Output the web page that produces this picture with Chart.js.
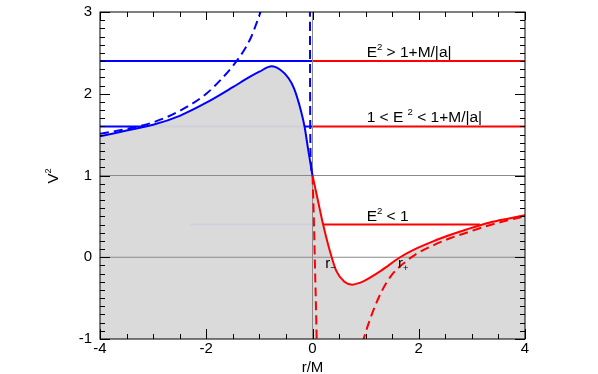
<!DOCTYPE html>
<html>
<head>
<meta charset="utf-8">
<script src="https://cdn.jsdelivr.net/npm/chart.js@4"></script>
<style>
  body { margin: 0; background: #fff; }
  canvas { display: block; }
</style>
</head>
<body>
<canvas id="chart" width="598" height="374"></canvas>
<script>
// Axis ticks
const xTickValues = [-4, -2, 0, 2, 4];
const yTickValues = [-1, 0, 1, 2, 3];

// Blue solid potential (r < 0)
const rBlue = [-4, -3.5, -3, -2.5, -2, -1.5, -1.2, -1.0, -0.77, -0.6, -0.45, -0.35, -0.25, -0.15, -0.08, 0];
const vBlue = [1.48, 1.55, 1.62, 1.73, 1.89, 2.08, 2.20, 2.27, 2.335, 2.29, 2.19, 2.07, 1.87, 1.6, 1.31, 1.0];

// Blue dashed potential, outer branch and branch near r = 0
const rBlueDash = [-4, -3.5, -3, -2.5, -2, -1.7, -1.5, -1.3, -1.15, -1.05, -0.98, -0.93];
const vBlueDash = [1.51, 1.57, 1.65, 1.79, 2.0, 2.19, 2.34, 2.52, 2.70, 2.87, 3.0, 3.12];
const rBlueDash2 = [-0.048, -0.045, -0.04, -0.03, -0.015, 0];
const vBlueDash2 = [3.05, 2.0, 1.4, 1.15, 1.04, 1.0];

// Red solid potential (r > 0)
const rRed = [0, 0.1, 0.2, 0.33, 0.45, 0.6, 0.75, 0.9, 1.0, 1.3, 1.65, 1.95, 2.27, 2.6, 2.9, 3.34, 3.7, 4];
const vRed = [1.0, 0.70, 0.40, 0.07, -0.17, -0.30, -0.335, -0.31, -0.28, -0.16, 0.0, 0.105, 0.195, 0.275, 0.34, 0.425, 0.475, 0.515];

// Red dashed potential, branch near r = 0 and outer branch
const rRedDash1 = [0, 0.015, 0.03, 0.05, 0.065, 0.08];
const vRedDash1 = [1.0, 0.7, 0.35, -0.2, -0.6, -1.05];
const rRedDash2 = [0.94, 1.0, 1.11, 1.3, 1.5, 1.74, 1.93, 2.27, 2.6, 2.9, 3.22, 3.6, 4];
const vRedDash2 = [-1.05, -0.92, -0.71, -0.42, -0.21, -0.06, 0.03, 0.145, 0.235, 0.30, 0.37, 0.44, 0.50];

// Energy levels E^2
const eHigh = 2.4, eMid = 1.6, eLow = 0.4;
const rLowRed = [0.2, 3.15];
const rLowBlue = [-2.3, 0];

const pts = (xs, ys) => xs.map((x, i) => ({ x: x, y: ys[i] }));
const flat = (xs, v) => xs.map(x => ({ x: x, y: v }));

const BLUE = '#0000ff', RED = '#ff0000', GREY = '#8a8a8a';
const FONT = '"Liberation Sans", Arial, sans-serif';

function curve(data, color, dashed, order) {
    return {
        data: data,
        borderColor: color,
        borderWidth: 2,
        borderDash: dashed ? [9, 5] : [],
        pointRadius: 0,
        fill: false,
        cubicInterpolationMode: 'monotone',
        order: order
    };
}

function straight(data, color, width, order) {
    return {
        data: data,
        borderColor: color,
        borderWidth: width,
        pointRadius: 0,
        fill: false,
        tension: 0,
        order: order
    };
}

// Shaded region under the solid potential
const envelope = pts(rBlue, vBlue).concat(pts(rRed.slice(1), vRed.slice(1)));

// Draw a string with superscript / subscript pieces
function drawRich(ctx, parts, x, y, size) {
    parts.forEach(p => {
        const s = p.sup || p.sub ? size * 0.62 : size;
        ctx.font = s + 'px ' + FONT;
        const dy = p.sup ? -size * 0.45 : (p.sub ? size * 0.2 : 0);
        ctx.fillText(p.t, x, y + dy);
        x += ctx.measureText(p.t).width;
    });
}

const decorations = {
    id: 'decorations',
    beforeDraw(chart) {
        const ctx = chart.ctx;
        ctx.save();
        ctx.fillStyle = '#fff';
        ctx.fillRect(0, 0, chart.width, chart.height);
        ctx.restore();
    },
    afterDraw(chart) {
        const { ctx, chartArea: a, scales: { x, y } } = chart;
        ctx.save();
        ctx.strokeStyle = '#000';
        ctx.lineWidth = 1;
        ctx.strokeRect(a.left, a.top, a.right - a.left, a.bottom - a.top);

        // minor + major ticks, pointing inward on all four sides
        ctx.beginPath();
        for (let i = 0; i <= 16; i++) {
            const px = Math.round(x.getPixelForValue(-4 + i * 0.5)) + 0.5;
            const major = i % 4 === 0;
            ctx.moveTo(px, a.bottom); ctx.lineTo(px, a.bottom - (major ? 10 : 5));
            ctx.moveTo(px, a.top); ctx.lineTo(px, a.top + (major ? 8 : 5));
        }
        for (let i = 0; i <= 40; i++) {
            const py = Math.round(y.getPixelForValue(-1 + i * 0.1)) + 0.5;
            const major = i % 10 === 0;
            ctx.moveTo(a.left, py); ctx.lineTo(a.left + (major ? 10 : 5), py);
            ctx.moveTo(a.right, py); ctx.lineTo(a.right - (major ? 10 : 5), py);
        }
        ctx.stroke();

        // axis titles
        ctx.fillStyle = '#000';
        ctx.textBaseline = 'alphabetic';
        ctx.textAlign = 'center';
        ctx.font = '15px ' + FONT;
        ctx.fillText('r/M', (a.left + a.right) / 2, 372);
        ctx.save();
        ctx.translate(58, (a.top + a.bottom) / 2);
        ctx.rotate(-Math.PI / 2);
        ctx.textAlign = 'left';
        drawRich(ctx, [{ t: 'V' }, { t: '2', sup: true }], -8, 0, 15);
        ctx.restore();

        // energy level labels
        ctx.textAlign = 'left';
        const lx = x.getPixelForValue(1.0);
        drawRich(ctx, [{ t: 'E' }, { t: '2', sup: true }, { t: ' > 1+M/|a|' }], lx + 1, y.getPixelForValue(eHigh) - 4, 15.5);
        drawRich(ctx, [{ t: '1 < E ' }, { t: '2', sup: true }, { t: ' < 1+M/|a|' }], lx + 1, y.getPixelForValue(eMid) - 4, 15.5);
        drawRich(ctx, [{ t: 'E' }, { t: '2', sup: true }, { t: ' < 1' }], lx + 1, y.getPixelForValue(eLow) - 4, 15.5);

        // horizon labels
        drawRich(ctx, [{ t: 'r' }, { t: '\u2212', sub: true }], x.getPixelForValue(0.24), y.getPixelForValue(0) + 11, 15);
        drawRich(ctx, [{ t: 'r' }, { t: '+', sub: true }], x.getPixelForValue(1.61), y.getPixelForValue(0) + 11, 15);
        ctx.restore();
    }
};

new Chart(document.getElementById('chart'), {
    type: 'line',
    data: {
        datasets: [
            straight(flat([-4, 0], eHigh), BLUE, 2, 10),
            straight(flat([-4, 0], eMid), BLUE, 2, 10),
            straight(flat(rLowBlue, eLow), BLUE, 2, 10),
            straight(flat([0, 4], eHigh), RED, 2, 10),
            straight(flat([0, 4], eMid), RED, 2, 10),
            straight(flat(rLowRed, eLow), RED, 2, 10),
            {
                data: envelope,
                borderWidth: 0,
                borderColor: 'rgba(0,0,0,0)',
                backgroundColor: 'rgba(217,217,217,0.96)',
                pointRadius: 0,
                fill: 'start',
                cubicInterpolationMode: 'monotone',
                order: 8
            },
            straight(flat([-4, 4], 1), GREY, 1, 6),
            straight(flat([-4, 4], 0), GREY, 1, 6),
            straight([{ x: 0, y: -1 }, { x: 0, y: 3 }], GREY, 1, 6),
            curve(pts(rBlueDash, vBlueDash), BLUE, true, 2),
            curve(pts(rBlueDash2, vBlueDash2), BLUE, true, 2),
            curve(pts(rRedDash1, vRedDash1), RED, true, 2),
            curve(pts(rRedDash2, vRedDash2), RED, true, 2),
            curve(pts(rBlue, vBlue), BLUE, false, 1),
            curve(pts(rRed, vRed), RED, false, 1)
        ]
    },
    options: {
        responsive: false,
        animation: false,
        layout: { padding: { left: 0, right: 73, top: 12, bottom: 0 } },
        plugins: {
            legend: { display: false },
            tooltip: { enabled: false }
        },
        scales: {
            x: {
                type: 'linear',
                min: -4,
                max: 4,
                afterBuildTicks: s => { s.ticks = xTickValues.map(v => ({ value: v })); },
                afterFit: s => { s.height = 35; s.paddingLeft = 0; s.paddingRight = 0; },
                grid: { display: false, drawTicks: false },
                border: { display: false },
                ticks: { padding: 1, color: '#000', font: { family: FONT, size: 15 }, maxRotation: 0 }
            },
            y: {
                type: 'linear',
                min: -1,
                max: 3,
                afterBuildTicks: s => { s.ticks = yTickValues.map(v => ({ value: v })); },
                afterFit: s => { s.width = 100; s.paddingTop = 0; s.paddingBottom = 0; },
                grid: { display: false, drawTicks: false },
                border: { display: false },
                ticks: { padding: 8, color: '#000', font: { family: FONT, size: 15 } }
            }
        }
    },
    plugins: [decorations]
});
</script>
</body>
</html>
